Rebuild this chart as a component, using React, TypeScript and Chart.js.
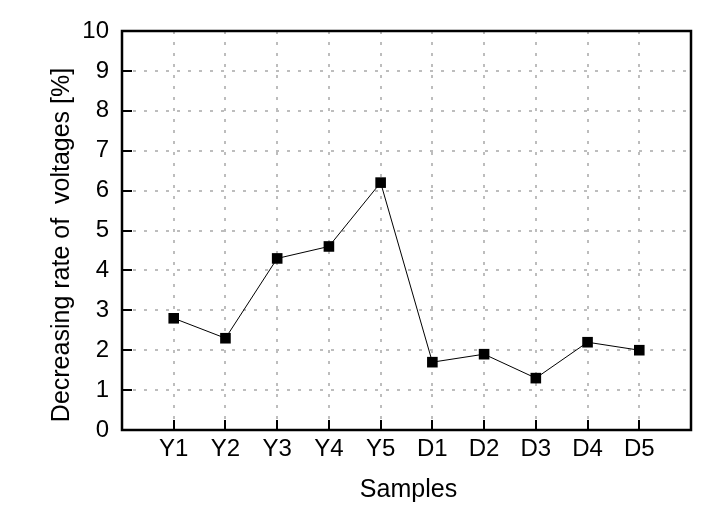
import React, { useEffect, useRef } from "react";
import { Chart, registerables } from "chart.js";

Chart.register(...registerables);

const categories = ["Y1", "Y2", "Y3", "Y4", "Y5", "D1", "D2", "D3", "D4", "D5"];
const values = [2.8, 2.3, 4.3, 4.6, 6.2, 1.7, 1.9, 1.3, 2.2, 2.0];
const yTicks = [0, 1, 2, 3, 4, 5, 6, 7, 8, 9, 10];
const yTitle = "Decreasing rate of  voltages [%]";
const xTitle = "Samples";

const FONT = "Arimo, 'Liberation Sans', Arial, sans-serif";

const framePlugin = {
  id: "frame",
  afterDatasetsDraw(chart: any) {
    const { ctx, chartArea } = chart;
    const { left, right, top, bottom } = chartArea;
    const xs = chart.scales.x;
    const ys = chart.scales.y;
    ctx.save();
    ctx.strokeStyle = "#000";
    ctx.lineWidth = 2;
    ctx.beginPath();
    yTicks.forEach((v) => {
      if (v === yTicks[0] || v === yTicks[yTicks.length - 1]) return;
      const py = Math.round(ys.getPixelForValue(v));
      ctx.moveTo(left, py);
      ctx.lineTo(left + 10, py);
    });
    categories.forEach((_, i) => {
      const px = Math.round(xs.getPixelForValue(i + 1));
      ctx.moveTo(px, bottom);
      ctx.lineTo(px, bottom - 10);
    });
    ctx.stroke();
    ctx.lineWidth = 2.5;
    ctx.strokeRect(left, top, right - left, bottom - top);
    // titles
    ctx.fillStyle = "#000";
    ctx.font = `25px ${FONT}`;
    ctx.textAlign = "center";
    ctx.textBaseline = "middle";
    ctx.fillText(xTitle, (left + right) / 2 + 2, 490);
    ctx.translate(62, 245);
    ctx.rotate(-Math.PI / 2);
    ctx.fillText(yTitle, 0, 0);
    ctx.restore();
  },
};

export default function App() {
  const ref = useRef<HTMLCanvasElement>(null);
  useEffect(() => {
    document.body.style.margin = "0";
    const chart = new Chart(ref.current!, {
      type: "line",
      data: {
        datasets: [
          {
            data: values.map((v, i) => ({ x: i + 1, y: v })),
            borderColor: "#000",
            borderWidth: 1,
            backgroundColor: "#000",
            pointStyle: "rect",
            pointRadius: 7.5,
            pointBorderWidth: 0,
            pointBackgroundColor: "#000",
            tension: 0,
          },
        ],
      },
      options: {
        responsive: false,
        animation: false,
        events: [],
        layout: { padding: { left: 0, top: 31, right: 26, bottom: 0 } },
        plugins: { legend: { display: false }, tooltip: { enabled: false } },
        scales: {
          x: {
            type: "linear",
            min: 0,
            max: 11,
            afterFit: (s: any) => {
              s.height = 85;
            },
            afterBuildTicks: (s: any) => {
              s.ticks = categories.map((_, i) => ({ value: i + 1 }));
            },
            ticks: {
              autoSkip: false,
              maxRotation: 0,
              padding: 5,
              color: "#000",
              font: { family: FONT, size: 24 },
              callback: (v: any) => categories[Number(v) - 1] ?? "",
            },
            grid: { color: "#bdbdbd", lineWidth: 2, drawTicks: false },
            border: { display: false, dash: [3, 8] },
          },
          y: {
            min: 0,
            max: 10,
            afterFit: (s: any) => {
              s.width = 122;
            },
            afterBuildTicks: (s: any) => {
              s.ticks = yTicks.map((v) => ({ value: v }));
            },
            ticks: {
              padding: 13,
              color: "#000",
              font: { family: FONT, size: 24 },
            },
            grid: { color: "#bdbdbd", lineWidth: 2, drawTicks: false },
            border: { display: false, dash: [3, 8] },
          },
        },
      },
      plugins: [framePlugin],
    });
    return () => chart.destroy();
  }, []);
  return (
    <div style={{ width: 717, height: 515, background: "#fff" }}>
      <canvas ref={ref} width={717} height={515} />
    </div>
  );
}
